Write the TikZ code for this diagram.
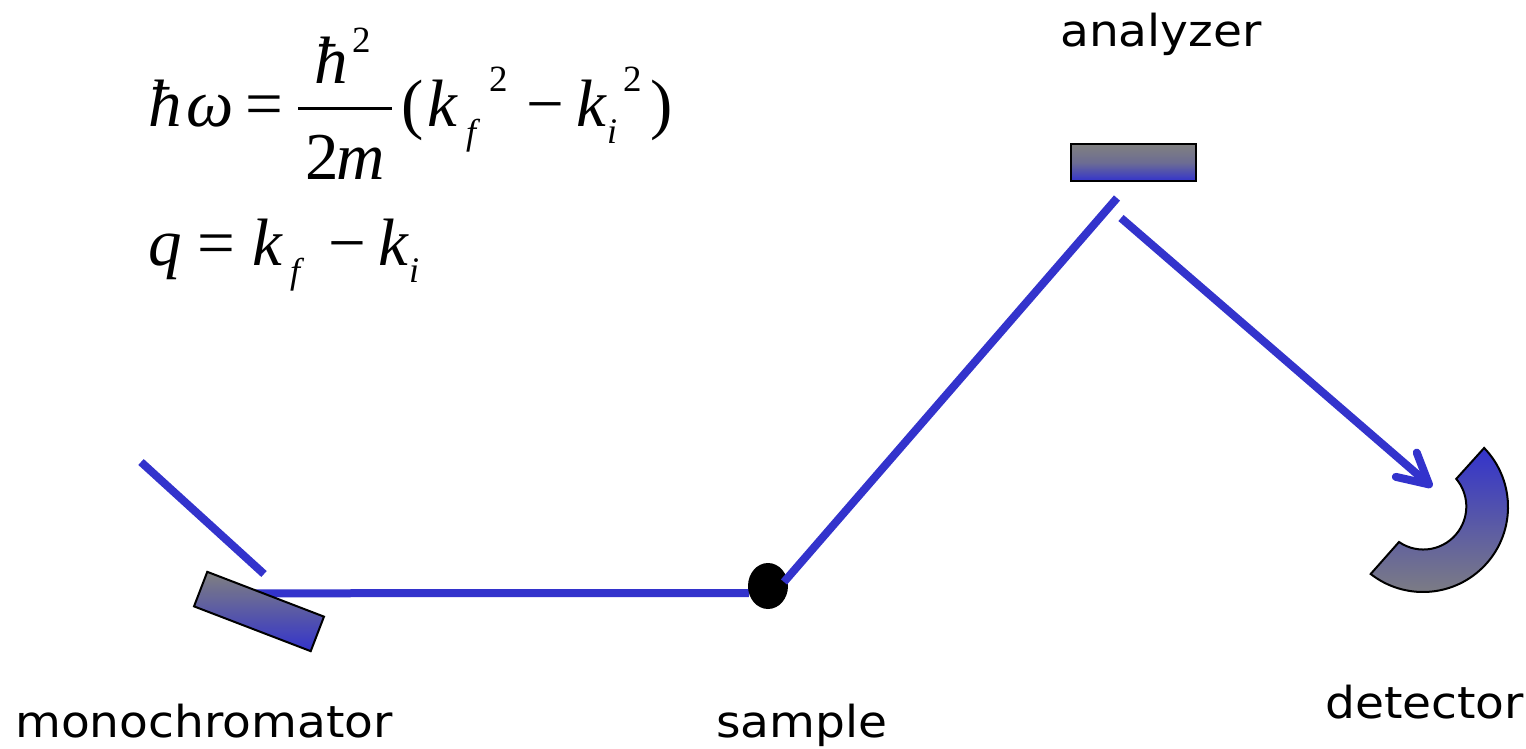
\documentclass[tikz,border=0pt]{standalone}
\usepackage{fontspec}
\setmainfont{Liberation Serif}
\newfontfamily\labelfont[FakeStretch=1.07]{DejaVu Sans}
\usetikzlibrary{arrows.meta,shapes.geometric,backgrounds}
\definecolor{beam}{RGB}{51,51,204}
\definecolor{plate}{RGB}{128,128,128}
\tikzset{
  label text/.style={anchor=base west,inner sep=0pt,font=\labelfont\fontsize{44}{50}\selectfont,text=black},
  eq/.style={anchor=base west,inner sep=0pt,font=\fontsize{67}{70}\selectfont\itshape},
  equp/.style={anchor=base west,inner sep=0pt,font=\fontsize{67}{70}\selectfont},
  eqsub/.style={anchor=base west,inner sep=0pt,font=\fontsize{36}{40}\selectfont\itshape},
  eqsup/.style={anchor=base west,inner sep=0pt,font=\fontsize{37}{40}\selectfont},
  beamline/.style={draw=beam,line width=8pt},
  crystal/.style={draw=black,line width=2pt,top color=plate,bottom color=beam,inner sep=0pt,minimum width=125pt,minimum height=37pt},
}
\begin{document}
\begin{tikzpicture}[x=1pt,y=-1pt]
\useasboundingbox (0,0) rectangle (1526,749);
% optical elements
\node[crystal,rotate=-21] (mono) at (259,611.5) {};
\node[crystal,middle color=plate!75!beam] (analyzer) at (1133,162.5) {};
\node[ellipse,fill=black,inner sep=0pt,minimum width=40pt,minimum height=46pt] (sample) at (768,586) {};
\path[draw=black,line width=2pt,top color=beam,bottom color=plate]
  (1423,507) ++(-44:85) coordinate (detA)
  arc[start angle=-44,end angle=128,radius=85] coordinate (detB)
  -- (1399,542) arc[start angle=124.4,end angle=-40,radius=43] -- cycle;
\coordinate (detector) at (1432,487);
% beam
\coordinate (source) at (141,462);
\coordinate (monoin) at (264,574);
\coordinate (sampout) at (784,582);
\coordinate (anain) at (1117,198);
\coordinate (anaout) at (1121,218);
\begin{pgfonlayer}{background}
\draw[beamline,shorten <=-12pt] (mono.north) -- (sample.200);
\end{pgfonlayer}
\draw[beamline] (source) -- (monoin);
\draw[beamline] (sampout) -- (anain);
\draw[beamline,-{Straight Barb[length=30pt,width=32pt,round]}] (anaout) -- (detector);
% labels
\node[label text] (tmono) at (15,737) {monochromator};
\node[label text] (tsample) at (716,737) {sample};
\node[label text] (tana) at (1060,47) {analyzer};
\node[label text] (tdet) at (1325,718) {detector};
% equations
\node[eq] (e1) at (148,127) {ħ};
\node[eq] (e1b) at (186,127) {ω};
\node[equp] (e2) at (245,127) {=};
\draw[line width=3pt] (298,109) -- (392,109);
\node[eq] (e3) at (314,84) {ħ};
\node[eqsup] (e4) at (352,53) {2};
\node[equp] (e5) at (305,179) {2};
\node[eq] (e6) at (336,179) {m};
\node[equp] (e7) at (401,127) {(};
\node[eq] (e8) at (427,127) {k};
\node[eqsub] (e9) at (466,145) {f};
\node[eqsup] (e10) at (489,92) {2};
\node[equp] (e11) at (526,127) {−};
\node[eq] (e12) at (576,127) {k};
\node[eqsub] (e13) at (607,143) {i};
\node[eqsup] (e14) at (623,92) {2};
\node[equp] (e15) at (650,127) {)};
\node[eq] (f1) at (148,265) {q};
\node[equp] (f2) at (197,265) {=};
\node[eq] (f3) at (252,265) {k};
\node[eqsub] (f4) at (290,283) {f};
\node[equp] (f5) at (328,265) {−};
\node[eq] (f6) at (378,265) {k};
\node[eqsub] (f7) at (409,282) {i};
\end{tikzpicture}
\end{document}
